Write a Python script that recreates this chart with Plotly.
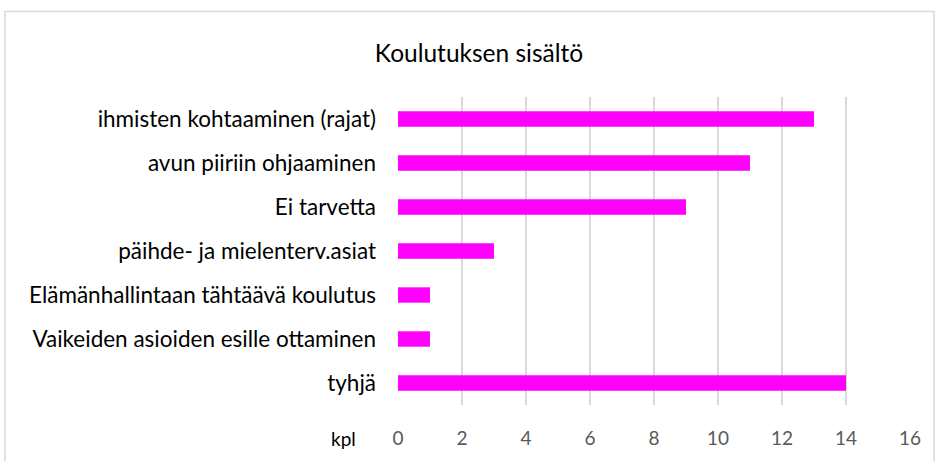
import plotly.graph_objects as go

categories = [
    "ihmisten kohtaaminen (rajat)",
    "avun piiriin ohjaaminen",
    "Ei tarvetta",
    "päihde- ja mielenterv.asiat",
    "Elämänhallintaan tähtäävä koulutus",
    "Vaikeiden asioiden esille ottaminen",
    "tyhjä",
]
values = [13, 11, 9, 3, 1, 1, 14]
tick_vals = [0, 2, 4, 6, 8, 10, 12, 14, 16]

FONT = "Lato"
L, R, T, B = 398, 29, 97, 54
W, H = 939, 461
pw = W - L - R
ph = H - T - B

def px_x(p):
    return (p - L) / pw

def px_y(p):
    return (H - B - p) / ph

fig = go.Figure(
    go.Bar(
        x=values,
        y=categories,
        orientation="h",
        marker=dict(color="#ff00ff", line=dict(width=0)),
        width=0.35,
    )
)

fig.update_layout(
    width=W,
    height=H,
    margin=dict(l=L, r=R, t=T, b=B),
    paper_bgcolor="white",
    plot_bgcolor="white",
    showlegend=False,
    font=dict(family=FONT, size=18, color="#000000"),
    title=dict(
        text="Koulutuksen sisältö",
        x=px_x(479),
        xref="paper",
        xanchor="center",
        y=1 - 53 / H,
        yref="container",
        yanchor="middle",
        font=dict(family=FONT, size=24.5, color="#000000"),
    ),
    xaxis=dict(
        range=[0, 16],
        tickvals=tick_vals,
        showgrid=True,
        gridcolor="#d9d9d9",
        gridwidth=1.5,
        zeroline=False,
        showline=False,
        ticks="",
        tickfont=dict(family=FONT, size=19, color="#595959"),
        ticklabelstandoff=20,
    ),
    yaxis=dict(
        autorange="reversed",
        showgrid=False,
        zeroline=False,
        showline=False,
        ticks="",
        tickfont=dict(family=FONT, size=22.5, color="#000000"),
        ticklabelstandoff=21,
    ),
    shapes=[
        dict(
            type="rect",
            xref="paper",
            yref="paper",
            x0=px_x(5),
            x1=px_x(934),
            y0=px_y(470),
            y1=px_y(11),
            line=dict(color="#d9d9d9", width=1.5),
            fillcolor="rgba(0,0,0,0)",
            layer="below",
        )
    ],
    annotations=[
        dict(
            text="kpl",
            xref="paper",
            yref="paper",
            x=px_x(343),
            y=px_y(441),
            xanchor="center",
            yanchor="middle",
            showarrow=False,
            font=dict(family=FONT, size=19, color="#000000"),
        )
    ],
)

fig.write_html(
    "out.html",
    config={"displayModeBar": False},
    post_script="document.body.style.margin='0';document.body.style.overflow='hidden';",
)
